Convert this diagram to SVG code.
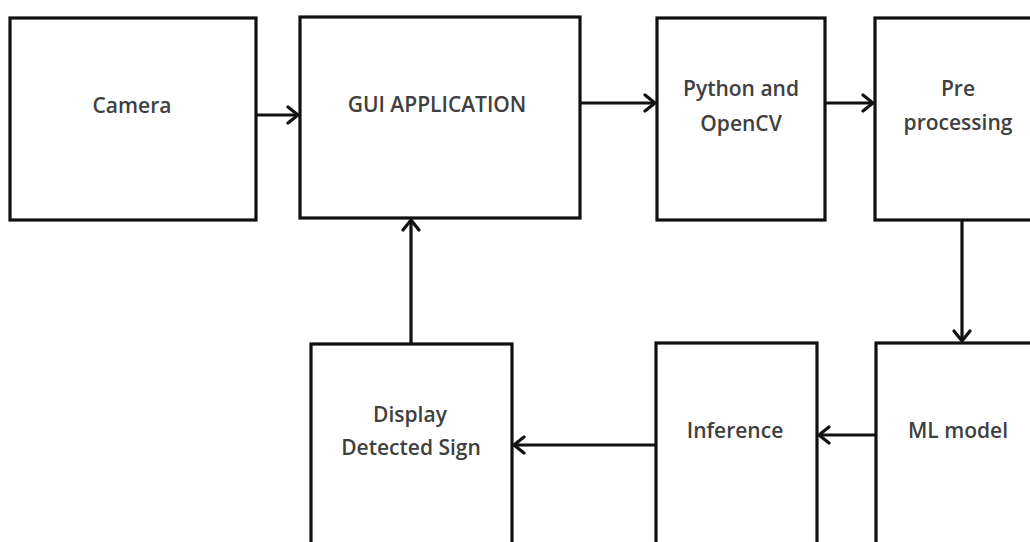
<svg xmlns="http://www.w3.org/2000/svg" width="1030" height="542" viewBox="0 0 1030 542">
  <defs>
    <style>
      .box { fill: #ffffff; stroke: #111111; stroke-width: 3.2; }
      .lbl { font-family: "Open Sans", "Liberation Sans", sans-serif; font-size: 21px; font-weight: 600; fill: #404040; text-anchor: middle; }
      .edge { fill: none; stroke: #111111; stroke-width: 3.2; }
    </style>
    <marker id="arrow" markerUnits="userSpaceOnUse" markerWidth="20" markerHeight="20" viewBox="-12 -10 14 20" refX="0" refY="0" orient="auto">
      <path d="M-10,-8 L0,0 L-10,8" fill="none" stroke="#111111" stroke-width="3.2" stroke-linecap="round" stroke-linejoin="miter"/>
    </marker>
  </defs>
  <rect width="1030" height="542" fill="#ffffff"/>

  <g id="camera">
    <rect class="box" x="10" y="18" width="246" height="202"/>
    <text class="lbl" x="132" y="113">Camera</text>
  </g>
  <g id="gui">
    <rect class="box" x="300" y="17" width="280" height="201"/>
    <text class="lbl" x="437" y="112">GUI APPLICATION</text>
  </g>
  <g id="python">
    <rect class="box" x="657" y="18" width="168" height="202"/>
    <text class="lbl" x="741" y="96">Python and</text>
    <text class="lbl" x="741" y="131">OpenCV</text>
  </g>
  <g id="preprocessing">
    <rect class="box" x="875" y="18" width="170" height="202"/>
    <text class="lbl" x="958" y="96">Pre</text>
    <text class="lbl" x="958" y="130">processing</text>
  </g>
  <g id="display">
    <rect class="box" x="311" y="344" width="201" height="210"/>
    <text class="lbl" x="410" y="422">Display</text>
    <text class="lbl" x="411" y="455">Detected Sign</text>
  </g>
  <g id="inference">
    <rect class="box" x="656" y="343" width="161" height="210"/>
    <text class="lbl" x="735" y="438">Inference</text>
  </g>
  <g id="mlmodel">
    <rect class="box" x="876" y="343" width="170" height="210"/>
    <text class="lbl" x="958" y="438">ML model</text>
  </g>

  <g id="connectors">
    <line class="edge" x1="256" y1="115" x2="298" y2="115" marker-end="url(#arrow)"/>
    <line class="edge" x1="580" y1="103" x2="655" y2="103" marker-end="url(#arrow)"/>
    <line class="edge" x1="825" y1="103" x2="873" y2="103" marker-end="url(#arrow)"/>
    <line class="edge" x1="962" y1="220" x2="962" y2="341" marker-end="url(#arrow)"/>
    <line class="edge" x1="876" y1="435" x2="819" y2="435" marker-end="url(#arrow)"/>
    <line class="edge" x1="656" y1="445" x2="514" y2="445" marker-end="url(#arrow)"/>
    <line class="edge" x1="411" y1="344" x2="411" y2="220" marker-end="url(#arrow)"/>
  </g>
</svg>
